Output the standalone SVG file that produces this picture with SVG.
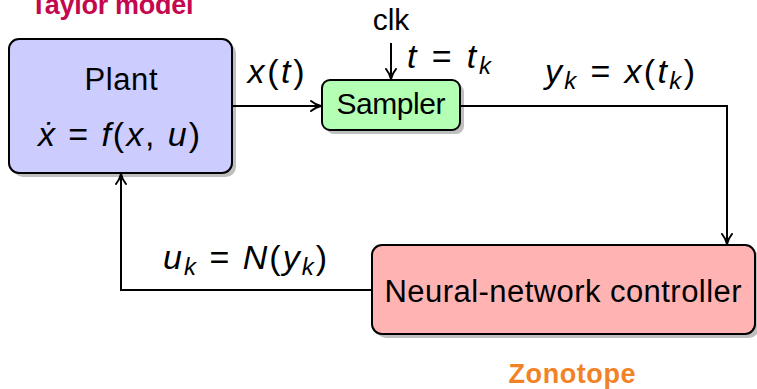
<svg xmlns="http://www.w3.org/2000/svg" width="757" height="389" viewBox="0 0 757 389">
<style>
.box{stroke:#000;stroke-width:2}
.sh{fill:#bfbfbf}
.t{font-family:"Liberation Sans",Arial,sans-serif;fill:#000}
.m{font-family:"Liberation Sans",Arial,sans-serif;font-size:34px;fill:#000}
.i{font-style:italic}
.s{font-style:italic;font-size:24px}
.ln{fill:none;stroke:#000;stroke-width:2}
</style>
<defs>
<marker id="ah" viewBox="0 0 12 12" refX="11" refY="6" markerWidth="12" markerHeight="12" markerUnits="userSpaceOnUse" orient="auto">
<path d="M1,1 Q6,5 11,6 Q6,7 1,11" fill="none" stroke="#000" stroke-width="2" stroke-linecap="round"/>
</marker>
</defs>
<rect width="757" height="389" fill="#fff"/>
<text x="112" y="14" text-anchor="middle" class="t" style="font-size:27px;font-weight:bold;fill:#c4074e" textLength="163">Taylor model</text>
<g id="plant">
<rect class="sh" x="13" y="43" width="223" height="134" rx="10"/>
<rect class="box" x="9" y="39" width="223" height="134" rx="10" fill="#ccccff"/>
<text x="121" y="90" text-anchor="middle" class="t" style="font-size:31px" textLength="73">Plant</text>
<text x="119" y="146" text-anchor="middle" class="m" textLength="162" lengthAdjust="spacing"><tspan class="i">ẋ</tspan> = <tspan class="i">f</tspan>(<tspan class="i">x</tspan>, <tspan class="i">u</tspan>)</text>
</g>
<g id="sampler">
<rect class="sh" x="326" y="84" width="138" height="50" rx="8"/>
<rect class="box" x="322" y="80" width="138" height="50" rx="8" fill="#b3ffb3"/>
<text x="391" y="114" text-anchor="middle" class="t" style="font-size:30px" textLength="109">Sampler</text>
</g>
<g id="controller">
<rect class="sh" x="376" y="249" width="383" height="89" rx="10"/>
<rect class="box" x="372" y="245" width="383" height="89" rx="10" fill="#ffb3b3"/>
<text x="563" y="302" text-anchor="middle" class="t" style="font-size:31px" textLength="357">Neural-network controller</text>
</g>
<text x="572" y="383" text-anchor="middle" class="t" style="font-size:27px;font-weight:bold;fill:#f28226" textLength="127">Zonotope</text>
<g id="connectors">
<path class="ln" d="M232,106 H321" marker-end="url(#ah)"/>
<path class="ln" d="M391,43 V79" marker-end="url(#ah)"/>
<path class="ln" d="M460,106 H727 V244" marker-end="url(#ah)"/>
<path class="ln" d="M372,290 H121 V174" marker-end="url(#ah)"/>
</g>
<text x="391" y="30" text-anchor="middle" class="t" style="font-size:30px">clk</text>
<text x="276" y="83" text-anchor="middle" class="m" textLength="57" lengthAdjust="spacing"><tspan class="i">x</tspan>(<tspan class="i">t</tspan>)</text>
<text x="407" y="68" class="m" textLength="84" lengthAdjust="spacing"><tspan class="i">t</tspan> = <tspan class="i">t</tspan><tspan class="s" dy="6">k</tspan></text>
<text x="620" y="83" text-anchor="middle" class="m" textLength="150" lengthAdjust="spacing"><tspan class="i">y</tspan><tspan class="s" dy="6">k</tspan><tspan dy="-6"> = </tspan><tspan class="i">x</tspan>(<tspan class="i">t</tspan><tspan class="s" dy="6">k</tspan><tspan dy="-6">)</tspan></text>
<text x="245" y="269" text-anchor="middle" class="m" textLength="164" lengthAdjust="spacing"><tspan class="i">u</tspan><tspan class="s" dy="6">k</tspan><tspan dy="-6"> = </tspan><tspan class="i">N</tspan>(<tspan class="i">y</tspan><tspan class="s" dy="6">k</tspan><tspan dy="-6">)</tspan></text>
</svg>
